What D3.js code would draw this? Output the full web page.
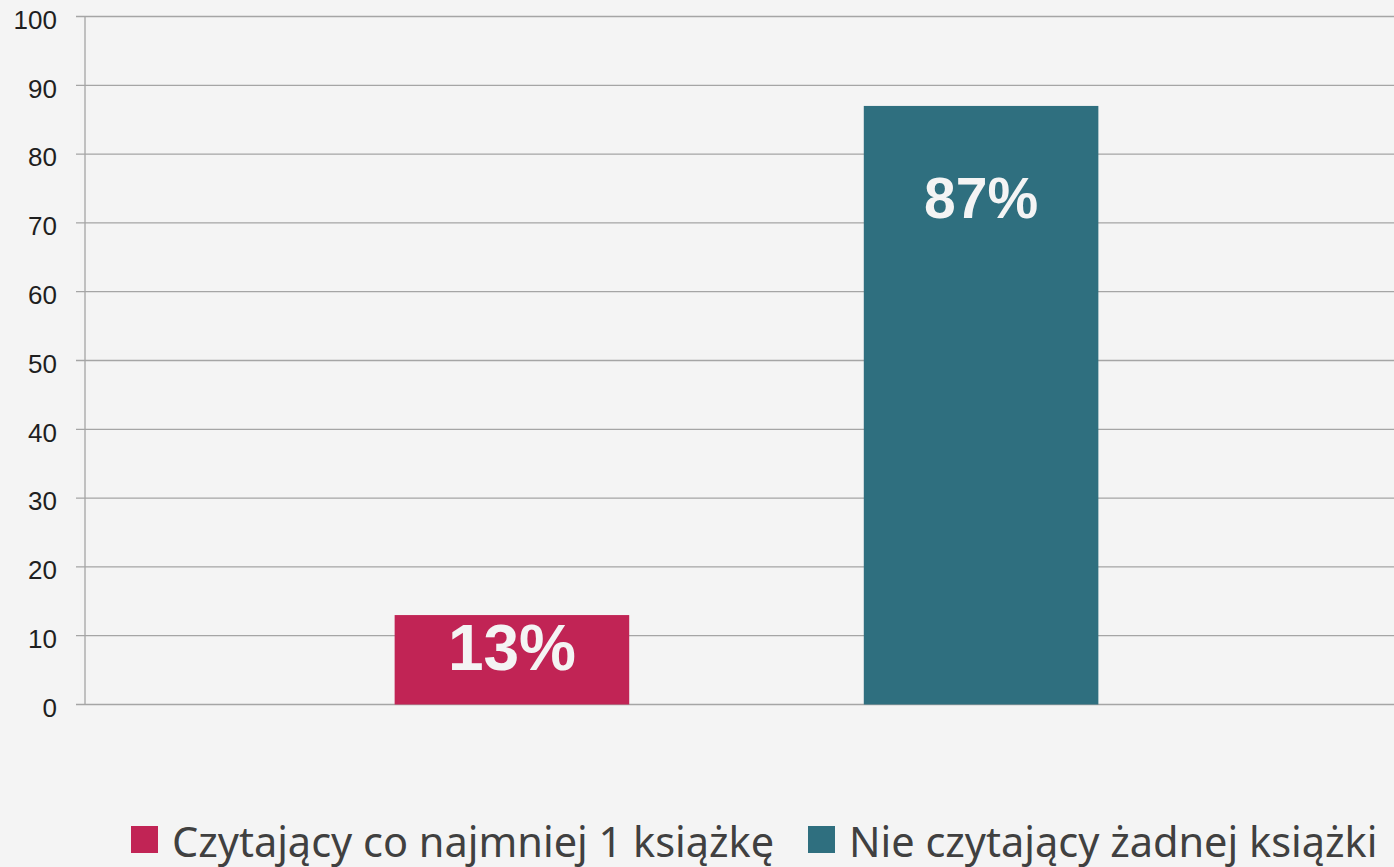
<!DOCTYPE html>
<html>
<head>
<meta charset="utf-8">
<script src="https://cdn.jsdelivr.net/npm/d3@7"></script>
<style>
    html, body { margin: 0; padding: 0; background: #f4f4f4; }
    svg { display: block; }
    .tick text { font-family: "Liberation Sans", Arial, sans-serif; }
</style>
</head>
<body>
<svg id="chart" width="1394" height="867"></svg>
<script>
// data
var series = ["Czytający co najmniej 1 książkę", "Nie czytający żadnej książki"];
var values = [13, 87];
var labels = ["13%", "87%"];
var colors = ["#c12455", "#2f6f7f"];
var yTicks = [0, 10, 20, 30, 40, 50, 60, 70, 80, 90, 100];

var svg = d3.select("#chart");
var plotLeft = 85, plotRight = 1408, plotTop = 16.5, plotBottom = 704.5;

var x = d3.scaleBand()
    .domain(series)
    .range([plotLeft, plotRight])
    .paddingInner(0.5)
    .paddingOuter(0.66);

var y = d3.scaleLinear()
    .domain([0, 100])
    .range([plotBottom, plotTop]);

// gridlines
svg.append("g")
    .selectAll("line")
    .data(yTicks)
    .enter()
    .append("line")
    .attr("x1", plotLeft - 9)
    .attr("x2", 1394)
    .attr("y1", function (d) { return y(d); })
    .attr("y2", function (d) { return y(d); })
    .attr("stroke", "#a5a5a5")
    .attr("stroke-width", 1.3);

// y axis line
svg.append("line")
    .attr("x1", plotLeft).attr("x2", plotLeft)
    .attr("y1", plotTop).attr("y2", plotBottom)
    .attr("stroke", "#a5a5a5")
    .attr("stroke-width", 1.3);

var yAxis = d3.axisLeft(y).tickValues(yTicks).tickSize(0).tickPadding(28);
var gy = svg.append("g")
    .attr("transform", "translate(" + plotLeft + ",0)")
    .call(yAxis);
gy.select(".domain").remove();
gy.selectAll("text")
    .attr("font-size", 26)
    .attr("fill", "#1f1f1f")
    .attr("dy", "0.45em");

// bars
svg.append("g")
    .selectAll("rect")
    .data(values)
    .enter()
    .append("rect")
    .attr("x", function (d, i) { return x(series[i]); })
    .attr("width", x.bandwidth())
    .attr("y", function (d) { return y(d); })
    .attr("height", function (d) { return y(0) - y(d); })
    .attr("fill", function (d, i) { return colors[i]; });

// value labels
svg.append("g")
    .selectAll("text")
    .data(values)
    .enter()
    .append("text")
    .attr("x", function (d, i) { return x(series[i]) + x.bandwidth() / 2; })
    .attr("y", function (d) { return y(d) + (d > 50 ? 112 : 55); })
    .attr("text-anchor", "middle")
    .attr("font-family", "'Liberation Sans', Arial, sans-serif")
    .attr("font-weight", "bold")
    .attr("font-size", function (d) { return d > 50 ? 57 : 64; })
    .attr("fill", "#f4f4f4")
    .text(function (d, i) { return labels[i]; });

// legend
var legendX = [131, 808];
var legend = svg.append("g")
    .selectAll("g")
    .data(series)
    .enter()
    .append("g")
    .attr("transform", function (d, i) { return "translate(" + legendX[i] + ",826)"; });

legend.append("rect")
    .attr("width", 27)
    .attr("height", 27)
    .attr("fill", function (d, i) { return colors[i]; });

legend.append("text")
    .attr("x", 41)
    .attr("y", 31)
    .attr("font-family", "'Noto Sans', 'Open Sans', sans-serif")
    .attr("font-size", 41.5)
    .attr("fill", "#404040")
    .text(function (d) { return d; });
</script>
</body>
</html>
